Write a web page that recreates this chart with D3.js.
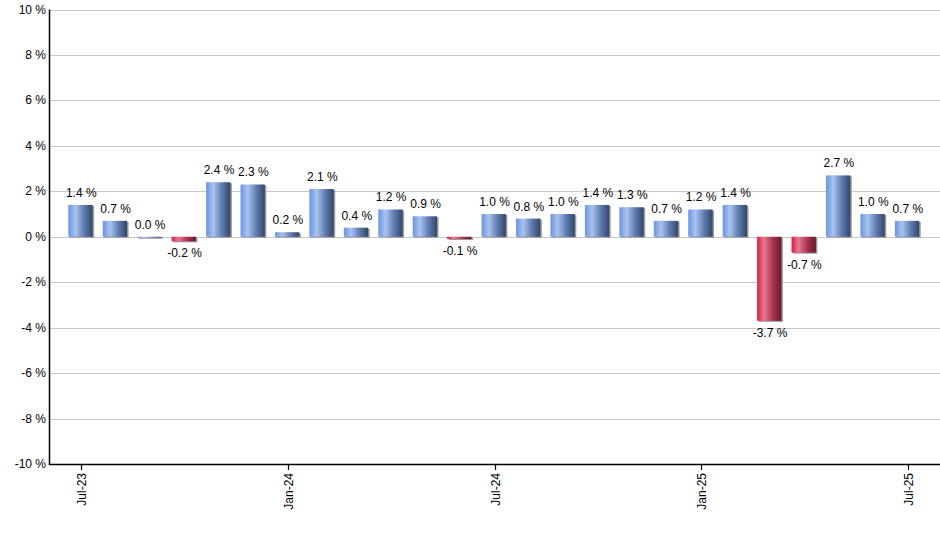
<!DOCTYPE html>
<html>
<head>
<meta charset="utf-8">
<script src="https://cdn.jsdelivr.net/npm/d3@7"></script>
<style>
  body { margin: 0; background: #fff; }
  svg text { font-family: "Liberation Sans", Arial, sans-serif; }
</style>
</head>
<body>
<svg id="chart" width="940" height="550"></svg>
<script>
const months = ["Jul-23","Aug-23","Sep-23","Oct-23","Nov-23","Dec-23","Jan-24","Feb-24","Mar-24","Apr-24","May-24","Jun-24",
  "Jul-24","Aug-24","Sep-24","Oct-24","Nov-24","Dec-24","Jan-25","Feb-25","Mar-25","Apr-25","May-25","Jun-25","Jul-25"];
const values = [1.4, 0.7, 0.0, -0.2, 2.4, 2.3, 0.2, 2.1, 0.4, 1.2, 0.9, -0.1,
  1.0, 0.8, 1.0, 1.4, 1.3, 0.7, 1.2, 1.4, -3.7, -0.7, 2.7, 1.0, 0.7];
const yTicks = [-10, -8, -6, -4, -2, 0, 2, 4, 6, 8, 10];
const xTickLabels = ["Jul-23", "Jan-24", "Jul-24", "Jan-25", "Jul-25"];

const svg = d3.select("#chart");
const plotLeft = 49, plotRight = 940, plotTop = 9.5, plotBottom = 464;

const x = d3.scaleBand()
  .domain(months)
  .range([64, 925])
  .paddingInner(0.25)
  .paddingOuter(0.125);

const y = d3.scaleLinear().domain([-10, 10]).range([plotBottom, plotTop]);

// gradients
const defs = svg.append("defs");
function grad(id, stops) {
  const g = defs.append("linearGradient").attr("id", id)
    .attr("x1", "0%").attr("x2", "100%").attr("y1", "0%").attr("y2", "0%");
  stops.forEach(s => g.append("stop").attr("offset", s[0]).attr("stop-color", s[1]));
}
grad("blueGrad", [["0%", "#6b95e0"], ["30%", "#a9c3f0"], ["65%", "#5f7bb0"], ["100%", "#32466a"]]);
grad("redGrad", [["0%", "#d81c45"], ["28%", "#e87790"], ["65%", "#a8344f"], ["100%", "#6a1829"]]);

// grid lines
svg.append("g")
  .selectAll("line")
  .data(yTicks)
  .join("line")
  .attr("x1", plotLeft).attr("x2", plotRight)
  .attr("y1", d => Math.round(y(d)) + 0.5)
  .attr("y2", d => Math.round(y(d)) + 0.5)
  .attr("stroke", "#c8c8c8")
  .attr("stroke-width", 1);

// y labels
svg.append("g")
  .selectAll("text")
  .data(yTicks)
  .join("text")
  .attr("x", plotLeft - 3)
  .attr("y", d => y(d) + 4)
  .attr("text-anchor", "end")
  .attr("font-size", 12)
  .attr("fill", "#000")
  .text(d => d + " %");

// bars
const bars = svg.append("g");
const bw = x.bandwidth() - 1.5;
bars.selectAll("rect.shadow")
  .data(values)
  .join("rect")
  .attr("class", "shadow")
  .attr("x", (d, i) => x(months[i]) + 1.5)
  .attr("y", d => Math.min(y(d), y(0)) + 1)
  .attr("width", bw)
  .attr("height", d => Math.max(Math.abs(y(d) - y(0)), 1))
  .attr("fill", "#9a9a9a");

bars.selectAll("rect.bar")
  .data(values)
  .join("rect")
  .attr("class", "bar")
  .attr("x", (d, i) => x(months[i]))
  .attr("y", d => Math.min(y(d), y(0)))
  .attr("width", bw)
  .attr("height", d => Math.max(Math.abs(y(d) - y(0)), 1))
  .attr("fill", d => d < 0 ? "url(#redGrad)" : "url(#blueGrad)");

// value labels
svg.append("g")
  .selectAll("text")
  .data(values)
  .join("text")
  .attr("x", (d, i) => x(months[i]) + x.bandwidth() / 2)
  .attr("y", d => d < 0 ? y(d) + 16 : y(d) - 8)
  .attr("text-anchor", "middle")
  .attr("font-size", 12)
  .attr("fill", "#000")
  .text(d => d.toFixed(1) + " %");

// axes lines
svg.append("line")
  .attr("x1", plotLeft + 0.5).attr("x2", plotLeft + 0.5)
  .attr("y1", plotTop).attr("y2", plotBottom + 1)
  .attr("stroke", "#000").attr("stroke-width", 1.5);
svg.append("line")
  .attr("x1", plotLeft).attr("x2", plotRight)
  .attr("y1", plotBottom + 0.5).attr("y2", plotBottom + 0.5)
  .attr("stroke", "#000").attr("stroke-width", 1.5);

// x ticks and labels
const xt = svg.append("g")
  .selectAll("g")
  .data(xTickLabels)
  .join("g")
  .attr("transform", d => `translate(${Math.round(x(d) + x.bandwidth() / 2) + 0.5},${plotBottom})`);
xt.append("line").attr("y1", 0).attr("y2", 6).attr("stroke", "#000").attr("stroke-width", 1.2);
xt.append("text")
  .attr("transform", "rotate(-90)")
  .attr("x", -9)
  .attr("y", 4)
  .attr("text-anchor", "end")
  .attr("font-size", 12)
  .attr("fill", "#000")
  .text(d => d);
</script>
</body>
</html>
